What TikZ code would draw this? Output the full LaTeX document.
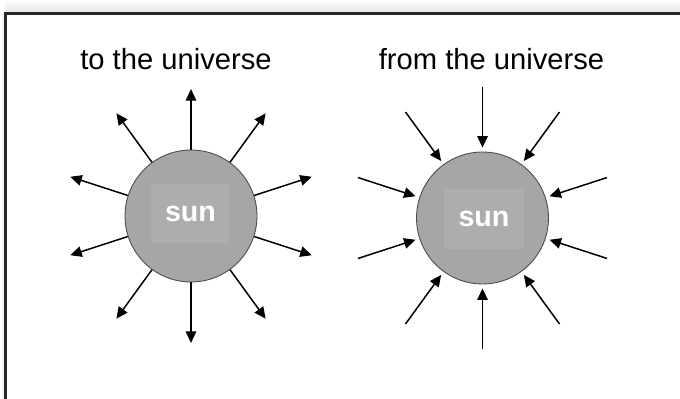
\documentclass[tikz,border=0pt]{standalone}
\usepackage{fontspec}
\setmainfont{Liberation Sans}
\usetikzlibrary{arrows.meta,positioning,calc}
\begin{document}
\begin{tikzpicture}[x=0.02cm,y=-0.02cm]
\tikzset{
  sn/.style={circle,draw=black!70,line width=0.5pt,fill=black!35,minimum size=2.64cm,inner sep=0pt},
  sq/.style={rectangle,fill=black!32,minimum width=1.6cm,minimum height=1.2cm,inner sep=0pt,text=white,font=\fontsize{16.3}{18}\selectfont\bfseries},
  ar/.style={-{Triangle[length=2.3mm,width=2.1mm]},line width=0.85pt,draw=black},
  tl/.style={font=\fontsize{16.6}{20}\selectfont,anchor=base,inner sep=0pt},
  fr/.style={line width=1.3pt,draw=black!85}
}
\useasboundingbox (0,0) rectangle (680,399);
\shade[top color=white,bottom color=black!10] (5,0) rectangle (680,13);
\shade[left color=white,right color=black!10] (0,13) rectangle (5,399);
\draw[fr] (5.5,399) -- (5.5,13.5) -- (680,13.5);
\node[tl] (tto) at (176,70) {to the universe};
\node[tl] (tfrom) at (491.5,70) {from the universe};
\node[sn] (sunL) at (191,216) {};
\node[sn] (sunR) at (482.5,218) {};
\node[sq] (sqL) at (190.5,213.5) {sun};
\node[sq] (sqR) at (484,219) {sun};
\foreach \a in {18,54,...,342}{
  \coordinate (outL\a) at ($(sunL)+(\a:2.54cm)$);
  \draw[ar] (sunL.\a) -- (outL\a);
  \coordinate (outR\a) at ($(sunR)+(\a:2.62cm)$);
  \draw[ar,shorten >=0.08cm] (outR\a) -- (sunR.\a);
}
\end{tikzpicture}
\end{document}
